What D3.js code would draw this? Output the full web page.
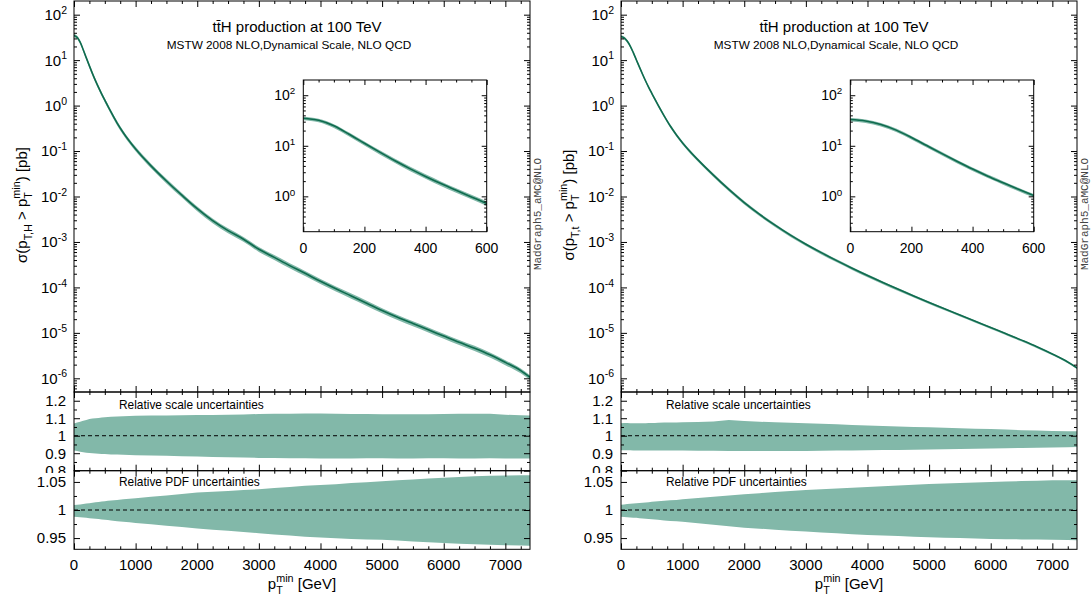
<!DOCTYPE html>
<html><head><meta charset="utf-8">
<script src="https://cdn.jsdelivr.net/npm/d3@7"></script>
<style>
body{margin:0;background:#fff}
svg{display:block}
text{font-family:"Liberation Sans",Arial,Helvetica,sans-serif;fill:#000}
</style>
</head><body>
<svg id="c" width="1091" height="603"></svg>
<script>
// ---------------- data ----------------
const ptGrid = [0,50,100,150,200,250,300,350,400,450,500,550,600,700,800,900,1000,1250,1500,1750,2000,2250,2500,2750,3000,3250,3500,3750,4000,4250,4500,4750,5000,5250,5500,5750,6000,6250,6500,6750,7000,7250,7400];

// sigma(pT,H > pTmin) [pb]
const sigmaH = [35,31.9,24.8,16.9,11.2,7.48,5.06,3.50,2.48,1.79,1.315,0.975,0.723,0.411,0.253,0.164,0.111,
  0.0472,0.0219,0.0107,0.0054,0.00295,0.00178,0.00115,0.00069,0.000457,0.000302,0.000204,0.000136,0.000093,0.000065,0.000045,0.000031,0.000022,0.000016,0.0000117,0.0000085,0.0000062,0.0000046,0.0000033,0.00000224,0.00000148,0.00000105];
// sigma(pT,t > pTmin) [pb]
const sigmaT = [33.1,30.9,26.3,20.4,14.6,10.1,7.0,4.9,3.47,2.51,1.86,1.38,1.035,0.596,0.355,0.226,0.151,
  0.0638,0.0295,0.0143,0.00733,0.00403,0.00234,0.00141,0.000891,0.000582,0.000389,0.000265,0.000183,0.000128,0.0000908,0.0000649,0.0000468,0.0000339,0.0000247,0.000018,0.0000131,0.00000955,0.00000692,0.00000495,0.00000343,0.00000229,0.0000017];

const scaleUpH = [1.07,1.075,1.08,1.085,1.09,1.095,1.098,1.10,1.102,1.104,1.106,1.107,1.108,1.11,1.112,1.113,1.114,
  1.115,1.116,1.117,1.118,1.119,1.12,1.122,1.124,1.125,1.126,1.127,1.127,1.125,1.124,1.124,1.123,1.123,1.123,1.123,1.124,1.125,1.126,1.125,1.12,1.117,1.115];
const scaleDnH = [0.915,0.912,0.909,0.906,0.903,0.901,0.90,0.898,0.897,0.896,0.895,0.894,0.893,0.892,0.891,0.89,0.889,
  0.887,0.885,0.883,0.881,0.879,0.877,0.875,0.873,0.872,0.871,0.871,0.870,0.870,0.870,0.871,0.871,0.870,0.870,0.871,0.871,0.870,0.870,0.871,0.870,0.870,0.870];
const pdfUpH = [1.009,1.0095,1.010,1.0108,1.0115,1.0122,1.013,1.0137,1.0144,1.015,1.0157,1.0163,1.017,1.018,1.019,1.020,1.021,
  1.0235,1.026,1.0285,1.031,1.0325,1.034,1.0355,1.037,1.039,1.041,1.043,1.0445,1.046,1.048,1.0495,1.051,1.053,1.0545,1.056,1.0575,1.059,1.060,1.061,1.0615,1.062,1.062];
const pdfDnH = [0.988,0.9875,0.987,0.9865,0.986,0.9855,0.985,0.9844,0.9838,0.9832,0.9826,0.982,0.9814,0.980,0.979,0.978,0.977,
  0.9745,0.972,0.9695,0.967,0.965,0.963,0.961,0.9585,0.9565,0.9545,0.9525,0.951,0.9495,0.9485,0.9475,0.9468,0.9455,0.944,0.9425,0.941,0.940,0.939,0.938,0.9372,0.9368,0.9365];

const scaleUpT = [1.072,1.073,1.073,1.072,1.071,1.071,1.071,1.072,1.072,1.073,1.073,1.073,1.074,1.075,1.075,1.076,1.077,
  1.078,1.082,1.09,1.084,1.08,1.077,1.074,1.071,1.068,1.065,1.061,1.058,1.056,1.053,1.05,1.048,1.046,1.043,1.04,1.038,1.035,1.032,1.03,1.027,1.026,1.025];
const scaleDnT = [0.917,0.917,0.917,0.917,0.916,0.916,0.916,0.916,0.916,0.916,0.915,0.915,0.915,0.915,0.915,0.915,0.915,
  0.914,0.914,0.913,0.913,0.913,0.913,0.912,0.913,0.914,0.915,0.916,0.917,0.918,0.919,0.92,0.921,0.922,0.924,0.925,0.927,0.928,0.93,0.931,0.933,0.934,0.935];
const pdfUpT = [1.0095,1.010,1.0105,1.011,1.0115,1.012,1.0125,1.013,1.0135,1.014,1.0145,1.015,1.0155,1.0165,1.0172,1.018,1.019,
  1.0213,1.0236,1.0258,1.028,1.030,1.032,1.0338,1.0355,1.037,1.0384,1.0398,1.041,1.0424,1.0437,1.045,1.0462,1.0472,1.0482,1.0491,1.050,1.0508,1.0516,1.0523,1.053,1.053,1.053];
const pdfDnT = [0.988,0.9876,0.9872,0.9868,0.9864,0.986,0.9855,0.985,0.9845,0.984,0.9835,0.983,0.9825,0.9815,0.9805,0.980,0.979,
  0.9763,0.9737,0.971,0.9686,0.9667,0.965,0.9632,0.9615,0.9599,0.9584,0.957,0.9556,0.9545,0.9535,0.9525,0.9515,0.9507,0.95,0.9492,0.9485,0.948,0.9476,0.9473,0.947,0.9465,0.946];

const xDomain = [0, 7400];
const mainYDomain = [5e-7, 200];
const scaleYDomain = [0.8, 1.25];
const pdfYDomain = [0.93, 1.07];
const insetXDomain = [0, 600];
const insetYDomain = [0.2, 200];

const xTicks = [0,1000,2000,3000,4000,5000,6000,7000];
const xMinorTicks = [250,500,750,1250,1500,1750,2250,2500,2750,3250,3500,3750,4250,4500,4750,5250,5500,5750,6250,6500,6750,7250];
const mainExps = [2,1,0,-1,-2,-3,-4,-5,-6];
const insetExps = [2,1,0];
const insetXTicks = [0,200,400,600];
const insetXMinor = [50,100,150,250,300,350,450,500,550];
const scaleTicks = [0.8,0.9,1,1.1,1.2];
const scaleMinor = [0.85,0.95,1.05,1.15];
const pdfTicks = [0.95,1,1.05];
const pdfMinor = [0.975,1.025];

const titleText = "tt\u0304H production at 100 TeV";
const subtitleText = "MSTW 2008 NLO,Dynamical Scale, NLO QCD";
const scaleLabel = "Relative scale uncertainties";
const pdfLabel = "Relative PDF uncertainties";
const progLabel = "MadGraph5_aMC@NLO";

// ---------------- drawing ----------------
const svg = d3.select("#c");
const defs = svg.append("defs");
const LINE = "#0f6b4e", BAND = "#82b8a9";
const PW = 456, MT = 1, MB = 392, SB = 470.7, PB = 549.3;
const IX0 = 229.3, IX1 = 412.7, IT = 80, IB = 231.7;
const FS = 15;

const panels = [
  {x0: 74,  sigma: sigmaH, sUp: scaleUpH, sDn: scaleDnH, pUp: pdfUpH, pDn: pdfDnH, sub: "T,H"},
  {x0: 621, sigma: sigmaT, sUp: scaleUpT, sDn: scaleDnT, pUp: pdfUpT, pDn: pdfDnT, sub: "T,t"}
];

function tk(g, axisFn, scale, vals, size, tr) {
  g.append("g").attr("transform", tr)
    .call(axisFn(scale).tickValues(vals).tickSize(size).tickFormat(""))
    .call(s => s.select(".domain").remove())
    .call(s => s.selectAll("line").attr("stroke", "#000").attr("stroke-width", 1));
}

function logMinor(dom) {
  const out = [];
  for (let e = -8; e <= 3; e++) for (let k = 2; k <= 9; k++) {
    const v = k * Math.pow(10, e);
    if (v > dom[0] && v < dom[1]) out.push(v);
  }
  return out;
}

// rich text: parts {t, mode:'sub'|'sup'|undefined, stack:bool}
function rich(sel, parts, fs) {
  let shift = 0;
  let prev = null;
  parts.forEach(p => {
    const target = p.mode === "sub" ? fs * 0.3 : p.mode === "sup" ? -fs * 0.45 : 0;
    const ts = sel.append("tspan").text(p.t).attr("dy", target - shift);
    if (p.mode) ts.style("font-size", (fs * 0.72) + "px");
    if (p.stack && prev) ts.attr("dx", -prev.node().getComputedTextLength());
    shift = target;
    prev = ts;
  });
}

function logLabel(g, xp, yp, e, fs) {
  const t = g.append("text").attr("x", xp).attr("y", yp + fs * 0.36)
    .attr("text-anchor", "end").style("font-size", fs + "px");
  t.append("tspan").text("10");
  t.append("tspan").attr("dy", -fs * 0.42).style("font-size", (fs * 0.7) + "px").text(String(e));
}

panels.forEach((P, pi) => {
  const g = svg.append("g").attr("transform", `translate(${P.x0},0)`);
  const x = d3.scaleLinear().domain(xDomain).range([0, PW]);
  const yM = d3.scaleLog().domain(mainYDomain).range([MB, MT]);
  const yS = d3.scaleLinear().domain(scaleYDomain).range([SB, MB]);
  const yP = d3.scaleLinear().domain(pdfYDomain).range([PB, SB]);
  const xi = d3.scaleLinear().domain(insetXDomain).range([IX0, IX1]);
  const yi = d3.scaleLog().domain(insetYDomain).range([IB, IT]);
  const idx = d3.range(ptGrid.length);

  const mkClip = (id, x0, y0, w, h) => {
    defs.append("clipPath").attr("id", id).append("rect")
      .attr("x", x0).attr("y", y0).attr("width", w).attr("height", h);
    return `url(#${id})`;
  };
  const cMain = mkClip("cm" + pi, 0, MT, PW, MB - MT);
  const cScale = mkClip("cs" + pi, 0, MB, PW, SB - MB);
  const cPdf = mkClip("cp" + pi, 0, SB, PW, PB - SB);
  const cIn = mkClip("ci" + pi, IX0, IT, IX1 - IX0, IB - IT);
  const cLab = mkClip("cl" + pi, -80, MB - 12, 80, 473 - MB + 12);

  // ---- main curve ----
  const gm = g.append("g").attr("clip-path", cMain);
  gm.append("path").datum(idx).attr("fill", BAND)
    .attr("d", d3.area().x(i => x(ptGrid[i]))
      .y0(i => yM(P.sigma[i] * P.sDn[i])).y1(i => yM(P.sigma[i] * P.sUp[i]))
      .curve(d3.curveMonotoneX));
  gm.append("path").datum(idx).attr("fill", "none").attr("stroke", LINE).attr("stroke-width", 1.6)
    .attr("d", d3.line().x(i => x(ptGrid[i])).y(i => yM(P.sigma[i])).curve(d3.curveMonotoneX));

  // ---- ratio bands ----
  const gs = g.append("g").attr("clip-path", cScale);
  gs.append("path").datum(idx).attr("fill", BAND)
    .attr("d", d3.area().x(i => x(ptGrid[i])).y0(i => yS(P.sDn[i])).y1(i => yS(P.sUp[i])));
  gs.append("line").attr("x1", 0).attr("x2", PW).attr("y1", yS(1)).attr("y2", yS(1))
    .attr("stroke", "#000").attr("stroke-width", 1).attr("stroke-dasharray", "4,3");
  const gp = g.append("g").attr("clip-path", cPdf);
  gp.append("path").datum(idx).attr("fill", BAND)
    .attr("d", d3.area().x(i => x(ptGrid[i])).y0(i => yP(P.pDn[i])).y1(i => yP(P.pUp[i])));
  gp.append("line").attr("x1", 0).attr("x2", PW).attr("y1", yP(1)).attr("y2", yP(1))
    .attr("stroke", "#000").attr("stroke-width", 1).attr("stroke-dasharray", "4,3");

  // ---- frames ----
  [[MT, MB], [MB, SB], [SB, PB]].forEach(([a, b]) => {
    g.append("rect").attr("x", 0).attr("y", a).attr("width", PW).attr("height", b - a)
      .attr("fill", "none").attr("stroke", "#000").attr("stroke-width", 1);
  });

  // ---- x ticks for each panel (top & bottom, inward) ----
  [[MT, MB], [MB, SB], [SB, PB]].forEach(([a, b]) => {
    tk(g, d3.axisTop, x, xTicks, -6, `translate(0,${a})`);
    tk(g, d3.axisTop, x, xMinorTicks, -3, `translate(0,${a})`);
    tk(g, d3.axisBottom, x, xTicks, -6, `translate(0,${b})`);
    tk(g, d3.axisBottom, x, xMinorTicks, -3, `translate(0,${b})`);
  });

  // ---- y ticks ----
  const mainMaj = mainExps.map(e => Math.pow(10, e));
  const mainMin = logMinor(mainYDomain);
  tk(g, d3.axisLeft, yM, mainMaj, -6, "translate(0,0)");
  tk(g, d3.axisLeft, yM, mainMin, -3, "translate(0,0)");
  tk(g, d3.axisRight, yM, mainMaj, -6, `translate(${PW},0)`);
  tk(g, d3.axisRight, yM, mainMin, -3, `translate(${PW},0)`);
  tk(g, d3.axisLeft, yS, scaleTicks, -6, "translate(0,0)");
  tk(g, d3.axisLeft, yS, scaleMinor, -3, "translate(0,0)");
  tk(g, d3.axisRight, yS, scaleTicks, -6, `translate(${PW},0)`);
  tk(g, d3.axisRight, yS, scaleMinor, -3, `translate(${PW},0)`);
  tk(g, d3.axisLeft, yP, pdfTicks, -6, "translate(0,0)");
  tk(g, d3.axisLeft, yP, pdfMinor, -3, "translate(0,0)");
  tk(g, d3.axisRight, yP, pdfTicks, -6, `translate(${PW},0)`);
  tk(g, d3.axisRight, yP, pdfMinor, -3, `translate(${PW},0)`);

  // ---- tick labels ----
  mainExps.forEach(e => logLabel(g, -7, yM(Math.pow(10, e)), e, FS));
  const gl = g.append("g").attr("clip-path", cLab);
  scaleTicks.forEach(v => gl.append("text").attr("x", -8).attr("y", yS(v) + FS * 0.36)
    .attr("text-anchor", "end").style("font-size", FS + "px").text(String(v)));
  pdfTicks.forEach(v => g.append("text").attr("x", -8).attr("y", yP(v) + FS * 0.36)
    .attr("text-anchor", "end").style("font-size", FS + "px").text(String(v)));
  xTicks.forEach(v => g.append("text").attr("x", x(v)).attr("y", 570)
    .attr("text-anchor", "middle").style("font-size", FS + "px").text(String(v)));

  // ---- axis titles ----
  const xt = g.append("text").attr("x", PW / 2).attr("y", 589).attr("text-anchor", "middle")
    .style("font-size", FS + "px");
  rich(xt, [{t: "p"}, {t: "T", mode: "sub"}, {t: "min", mode: "sup", stack: true}, {t: " [GeV]"}], FS);

  const yt = g.append("text").attr("transform", `translate(-47,205) rotate(-90)`)
    .attr("text-anchor", "middle").style("font-size", FS + "px");
  rich(yt, [{t: "\u03c3(p"}, {t: P.sub, mode: "sub"}, {t: " > p"}, {t: "T", mode: "sub"},
            {t: "min", mode: "sup", stack: true}, {t: ") [pb]"}], FS);

  // ---- titles ----
  g.append("text").attr("x", 223).attr("y", 32).attr("text-anchor", "middle")
    .style("font-size", "15px").text(titleText);
  g.append("text").attr("x", 215).attr("y", 49).attr("text-anchor", "middle")
    .style("font-size", "11.8px").text(subtitleText);
  g.append("text").attr("x", 45).attr("y", 409).style("font-size", "11.9px").text(scaleLabel);
  g.append("text").attr("x", 45).attr("y", 486).style("font-size", "11.9px").text(pdfLabel);

  // ---- program label ----
  g.append("text").attr("transform", `translate(${PW + 11},214) rotate(-90)`)
    .attr("text-anchor", "middle")
    .style("font-family", "'Liberation Mono','DejaVu Sans Mono',monospace")
    .style("font-size", "11px").style("fill", "#444").text(progLabel);

  // ---- inset ----
  g.append("rect").attr("x", IX0).attr("y", IT).attr("width", IX1 - IX0).attr("height", IB - IT)
    .attr("fill", "#fff");
  const gi = g.append("g").attr("clip-path", cIn);
  gi.append("path").datum(idx).attr("fill", BAND)
    .attr("d", d3.area().x(i => xi(ptGrid[i]))
      .y0(i => yi(P.sigma[i] * P.sDn[i])).y1(i => yi(P.sigma[i] * P.sUp[i]))
      .curve(d3.curveMonotoneX));
  gi.append("path").datum(idx).attr("fill", "none").attr("stroke", LINE).attr("stroke-width", 1.6)
    .attr("d", d3.line().x(i => xi(ptGrid[i])).y(i => yi(P.sigma[i])).curve(d3.curveMonotoneX));
  g.append("rect").attr("x", IX0).attr("y", IT).attr("width", IX1 - IX0).attr("height", IB - IT)
    .attr("fill", "none").attr("stroke", "#000").attr("stroke-width", 1);
  tk(g, d3.axisBottom, xi, insetXTicks, -5, `translate(0,${IB})`);
  tk(g, d3.axisBottom, xi, insetXMinor, -2.5, `translate(0,${IB})`);
  tk(g, d3.axisTop, xi, insetXTicks, -5, `translate(0,${IT})`);
  tk(g, d3.axisTop, xi, insetXMinor, -2.5, `translate(0,${IT})`);
  const inMaj = insetExps.map(e => Math.pow(10, e));
  const inMin = logMinor(insetYDomain);
  tk(g, d3.axisLeft, yi, inMaj, -5, `translate(${IX0},0)`);
  tk(g, d3.axisLeft, yi, inMin, -2.5, `translate(${IX0},0)`);
  tk(g, d3.axisRight, yi, inMaj, -5, `translate(${IX1},0)`);
  tk(g, d3.axisRight, yi, inMin, -2.5, `translate(${IX1},0)`);
  insetExps.forEach(e => logLabel(g, IX0 - 8, yi(Math.pow(10, e)), e, 14));
  insetXTicks.forEach(v => g.append("text").attr("x", xi(v)).attr("y", 253)
    .attr("text-anchor", "middle").style("font-size", "14px").text(String(v)));
});
</script>
</body></html>
